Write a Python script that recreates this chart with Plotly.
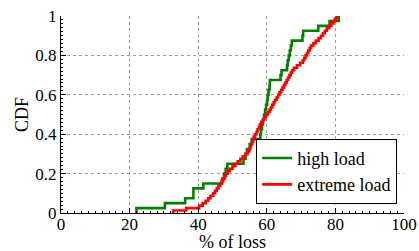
import plotly.graph_objects as go

# Sorted loss samples (% of loss)
high_load = [22.0, 30.3, 36.2, 38.6, 38.6, 41.5, 47.0, 47.5, 48.0, 48.5,
             53.2, 53.8, 54.2, 55.0, 55.6, 58.1, 58.3, 58.6, 58.9, 59.2,
             59.5, 59.8, 60.1, 60.3, 60.5, 60.8, 60.9, 64.0, 64.3, 65.9,
             66.1, 66.4, 66.7, 67.0, 67.3, 70.4, 70.6, 75.0, 78.3, 81.0]

extreme_load = [32.7, 36.5, 40.3, 41.3, 42.2, 42.9, 43.6, 44.4, 44.9, 45.4,
                45.9, 46.4, 46.8, 47.3, 47.7, 48.1, 48.6, 49.2, 50.0, 50.8,
                51.5, 52.3, 53.0, 53.8, 54.4, 54.9, 55.2, 55.4, 55.7, 56.0,
                56.2, 56.6, 57.0, 57.3, 57.7, 58.0, 58.4, 58.9, 59.3, 59.8,
                60.3, 60.8, 61.2, 61.6, 62.0, 62.4, 62.9, 63.3, 63.7, 64.2,
                64.6, 65.0, 65.4, 65.8, 66.2, 66.6, 67.0, 67.4, 67.9, 68.8,
                69.7, 70.5, 70.9, 71.3, 71.7, 72.1, 72.5, 72.9, 73.6, 74.3,
                75.1, 75.8, 76.4, 76.9, 77.5, 78.2, 78.8, 79.4, 79.9, 80.4]

series_names = ["high load", "extreme load"]
x_title = "% of loss"
y_title = "CDF"
x_ticks = [0, 20, 40, 60, 80, 100]
y_ticks = [0, 0.2, 0.4, 0.6, 0.8, 1.0]
y_tick_labels = ["0", "0.2", "0.4", "0.6", "0.8", "1"]


def ecdf(samples):
    s = sorted(samples)
    n = len(s)
    xs = [s[0]] + s
    ys = [0.0] + [(i + 1) / n for i in range(n)]
    return xs, ys


fig = go.Figure()
for name, data, color in [(series_names[0], high_load, "#008000"),
                          (series_names[1], extreme_load, "#ff0000")]:
    xs, ys = ecdf(data)
    fig.add_trace(go.Scatter(x=xs, y=ys, mode="lines", name=name,
                             line=dict(color=color, width=2.6, shape="hv")))

SERIF = "Liberation Serif"
font = dict(family=SERIF, size=18, color="black")
tickfont = dict(family=SERIF, size=17, color="black")
legendfont = dict(family=SERIF, size=18, color="black")

fig.update_layout(
    width=419, height=251,
    margin=dict(l=61, r=15, t=16, b=38, autoexpand=False),
    paper_bgcolor="white", plot_bgcolor="white",
    font=font,
    showlegend=True,
    legend=dict(x=0.98, y=0.047, xanchor="right", yanchor="bottom",
                bgcolor="white", bordercolor="black", borderwidth=1,
                font=legendfont, tracegroupgap=0, itemwidth=30),
    xaxis=dict(range=[0, 100], tickvals=x_ticks, ticks="inside", ticklen=5,
               tickcolor="black", showline=True, linecolor="black", linewidth=1,
               showgrid=True, gridcolor="#a0a0a0", griddash="dot", gridwidth=1,
               zeroline=False, mirror=False, automargin=False,
               tickfont=tickfont, ticklabelstandoff=-4,
               minor=dict(ticks="inside", ticklen=2, dtick=2, tickcolor="black", showgrid=False)),
    yaxis=dict(range=[0, 1], tickvals=y_ticks, ticktext=y_tick_labels,
               ticks="inside", ticklen=5, tickcolor="black",
               showline=True, linecolor="black", linewidth=1,
               showgrid=True, gridcolor="#a0a0a0", griddash="dot", gridwidth=1,
               zeroline=False, mirror=False, automargin=False,
               tickfont=tickfont,
               minor=dict(ticks="inside", ticklen=2, dtick=0.02, tickcolor="black", showgrid=False),
               title=dict(text=y_title, standoff=2, font=font)),
    annotations=[dict(text=x_title, xref="paper", yref="paper", x=0.5, y=-0.148,
                      xanchor="center", yanchor="middle", showarrow=False, font=font)],
)

fig.write_html("out.html", config={"displayModeBar": False},
               post_script="document.body.style.margin='0';document.body.style.overflow='hidden';")
